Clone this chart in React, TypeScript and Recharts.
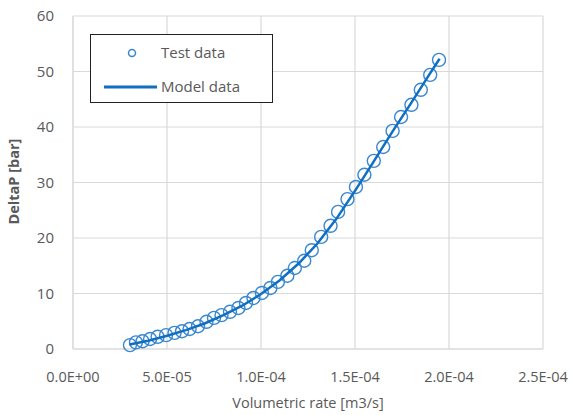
import { ScatterChart, Scatter, XAxis, YAxis, CartesianGrid } from "recharts";

const testRate = [
  3.03e-5, 3.35e-5, 3.7e-5, 4.1e-5, 4.5e-5, 4.95e-5, 5.4e-5, 5.8e-5, 6.2e-5, 6.65e-5,
  7.1e-5, 7.5e-5, 7.9e-5, 8.35e-5, 8.8e-5, 9.2e-5, 9.6e-5, 1.005e-4, 1.05e-4, 1.09e-4,
  1.14e-4, 1.18e-4, 1.23e-4, 1.27e-4, 1.32e-4, 1.37e-4, 1.41e-4, 1.46e-4, 1.505e-4, 1.55e-4,
  1.6e-4, 1.65e-4, 1.7e-4, 1.745e-4, 1.8e-4, 1.85e-4, 1.9e-4, 1.947e-4,
];
const testDeltaP = [
  0.7, 1.2, 1.4, 1.8, 2.2, 2.5, 2.9, 3.2, 3.6, 4.1,
  4.9, 5.6, 6.1, 6.7, 7.4, 8.3, 9.2, 10.1, 11.0, 12.1,
  13.2, 14.6, 15.9, 17.8, 20.2, 22.2, 24.7, 27.0, 29.2, 31.4,
  33.9, 36.4, 39.3, 41.8, 44.0, 46.7, 49.4, 52.1,
];

const modelRate = [
  3.0e-5, 4.0e-5, 5.0e-5, 6.0e-5, 7.0e-5, 8.0e-5, 9.0e-5, 1.0e-4, 1.1e-4,
  1.2e-4, 1.3e-4, 1.4e-4, 1.5e-4, 1.6e-4, 1.7e-4, 1.8e-4, 1.9e-4, 1.95e-4,
];
const modelDeltaP = [
  0.8, 1.5, 2.4, 3.4, 4.6, 6.1, 7.8, 9.9, 12.4,
  15.4, 19.0, 23.4, 28.5, 33.8, 39.2, 44.4, 49.7, 52.3,
];

const xTicks = [0, 5e-5, 1e-4, 1.5e-4, 2e-4, 2.5e-4];
const yTicks = [0, 10, 20, 30, 40, 50, 60];

const testData = testRate.map((x, i) => ({ x, y: testDeltaP[i] }));
const modelData = modelRate.map((x, i) => ({ x, y: modelDeltaP[i] }));

const sci = (v: number) => {
  const [m, e] = v.toExponential(1).split("e");
  const n = parseInt(e, 10);
  const sign = n < 0 ? "-" : "+";
  return `${m}E${sign}${String(Math.abs(n)).padStart(2, "0")}`;
};

const font = "'Open Sans', sans-serif";
const textGray = "#595959";
const circleBlue = "#3a87cf";
const lineBlue = "#0f6fc0";

const LegendBox = () => (
  <div
    style={{
      position: "absolute",
      left: 90,
      top: 34,
      width: 181,
      height: 67,
      background: "#fff",
      border: "1px solid #222",
    }}
  >
    <svg width={181} height={67} style={{ position: "absolute", left: 0, top: 0 }}>
      <circle cx={41} cy={18} r={3.5} fill="none" stroke={circleBlue} strokeWidth={1.5} />
      <line x1={13} y1={52} x2={66} y2={52} stroke={lineBlue} strokeWidth={3} />
      <text x={70} y={23} fill={textGray} fontSize={15} fontFamily={font}>Test data</text>
      <text x={70} y={57} fill={textGray} fontSize={15} fontFamily={font}>Model data</text>
    </svg>
  </div>
);

export default function App() {
  return (
    <div style={{ position: "absolute", left: 0, top: 0, width: 577, height: 415, background: "#fff" }}>
      <ScatterChart
        width={577}
        height={415}
        margin={{ top: 16, right: 34, bottom: 0, left: 0 }}
      >
        <CartesianGrid stroke="#d9d9d9" strokeWidth={1.2} horizontal vertical />
        <XAxis
          type="number"
          dataKey="x"
          domain={[0, 2.5e-4]}
          ticks={xTicks}
          tickFormatter={sci}
          axisLine={{ stroke: "#d9d9d9" }}
          tickLine={false}
          tickMargin={17}
          tick={{ fill: textGray, fontSize: 14.5, fontFamily: font }}
          allowDataOverflow
          height={66}
          label={{
            value: "Volumetric rate [m3/s]",
            position: "insideBottom",
            offset: 7,
            fill: textGray,
            fontSize: 14.5,
            fontFamily: font,
          }}
        />
        <YAxis
          type="number"
          dataKey="y"
          domain={[0, 60]}
          ticks={yTicks}
          width={73}
          axisLine={{ stroke: "#d9d9d9" }}
          tickLine={false}
          tickMargin={13}
          tick={{ fill: textGray, fontSize: 15, fontFamily: font }}
          label={{
            value: "DeltaP [bar]",
            angle: -90,
            position: "insideLeft",
            offset: 14,
            dy: 42,
            fill: textGray,
            fontSize: 14.5,
            fontWeight: "bold",
            fontFamily: font,
          }}
        />
        <Scatter
          name="Test data"
          data={testData}
          isAnimationActive={false}
          shape={(p: any) => (
            <circle cx={p.cx} cy={p.cy} r={6.5} fill="none" stroke={circleBlue} strokeWidth={1.4} />
          )}
        />
        <Scatter
          name="Model data"
          data={modelData}
          isAnimationActive={false}
          line={{ stroke: lineBlue, strokeWidth: 2.5 }}
          lineType="joint"
          shape={() => <g />}
        />
      </ScatterChart>
      <LegendBox />
    </div>
  );
}
